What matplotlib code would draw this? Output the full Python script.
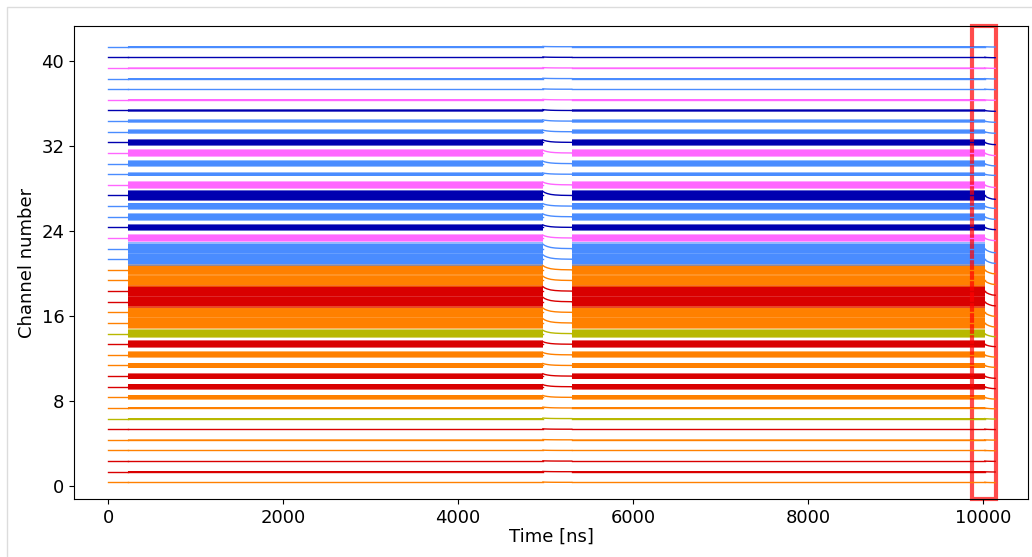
import numpy as np
import matplotlib
matplotlib.use('Agg')
import matplotlib.pyplot as plt
from matplotlib.patches import Rectangle

# channel layout (channel 0 at the bottom)
channels = np.arange(42)
baseline_offset = 0.35
ch_colors = ['orange', 'red', 'red', 'orange', 'orange', 'red', 'olive', 'orange',
             'orange', 'red', 'red', 'orange', 'orange', 'red', 'olive', 'orange',
             'orange', 'red', 'red', 'orange', 'orange',
             'blue', 'blue', 'violet', 'darkblue', 'blue', 'blue', 'darkblue', 'violet',
             'blue', 'blue', 'violet', 'darkblue', 'blue', 'blue', 'darkblue', 'violet',
             'blue', 'blue', 'violet', 'darkblue', 'blue']
# half width of the noise band of each channel, in channel units
noise_amp = [0.04, 0.04, 0.04, 0.04, 0.04, 0.05, 0.07, 0.12,
             0.25, 0.28, 0.32, 0.27, 0.32, 0.35, 0.45,
             0.58, 0.58, 0.6, 0.6, 0.58, 0.58,
             0.6, 0.6, 0.38, 0.33, 0.38, 0.33, 0.55, 0.38,
             0.17, 0.33, 0.38, 0.33, 0.22, 0.17, 0.12, 0.06,
             0.05, 0.05, 0.05, 0.05, 0.04]
palette = {'orange': '#ff8000', 'red': '#d90000', 'olive': '#b8b800',
           'blue': '#4a8cff', 'darkblue': '#0000b0', 'violet': '#ff66ff'}

# time segments [ns]
quiet_t = [0, 230]
noise_t1 = [230, 4970]
noise_t2 = [5300, 10020]
# baseline relaxation in the dead time and at the end of the record
gap_t = [4970, 4990, 5020, 5060, 5110, 5180, 5300]
gap_shape = [0.7, 0.5, 0.33, 0.18, 0.09, 0.03, 0.0]
tail_t = [10020, 10040, 10070, 10105, 10140]
tail_shape = [0.0, -0.25, -0.45, -0.6, -0.65]

# red box marking the end of the record
box_t = [9880, 10150]

plt.rcParams['font.size'] = 13
fig = plt.figure(figsize=(10.32, 5.57), dpi=100)
ax = fig.add_axes([0.0717, 0.1041, 0.9244, 0.8492])

for ch in channels:
    col = palette[ch_colors[ch]]
    amp = noise_amp[ch]
    y0 = ch + baseline_offset
    ax.plot(quiet_t, [y0, y0], color=col, lw=1.0)
    for seg in (noise_t1, noise_t2):
        ax.fill_between(seg, y0 - amp, y0 + amp, color=col, alpha=0.6, lw=0)
        ax.fill_between(seg, y0 - 0.75 * amp, y0 + 0.75 * amp, color=col, lw=0)
        ax.plot(seg, [y0, y0], color=col, lw=1.0)
    ax.plot(gap_t, y0 + amp * np.array(gap_shape), color=col, lw=1.0)
    ax.plot(tail_t, y0 + amp * np.array(tail_shape), color=col, lw=1.0)

ax.add_patch(Rectangle((box_t[0], -1.22), box_t[1] - box_t[0], 44.5,
                       fill=False, edgecolor='red', alpha=0.7, lw=3, clip_on=False))

ax.set_xlim(-390, 10515)
ax.set_ylim(-1.22, 43.3)
ax.set_xticks([0, 2000, 4000, 6000, 8000, 10000])
ax.set_yticks([0, 8, 16, 24, 32, 40])
ax.set_xlabel('Time [ns]', labelpad=1)
ax.set_ylabel('Channel number')

# light frame of the notebook output cell
fig.add_artist(Rectangle((6.5 / 1032, -0.05), 1.2, 1 - 7 / 557 + 0.05,
                         transform=fig.transFigure, fill=False,
                         edgecolor='#dcdcdc', lw=1))

fig.savefig('out.png', dpi=100)
